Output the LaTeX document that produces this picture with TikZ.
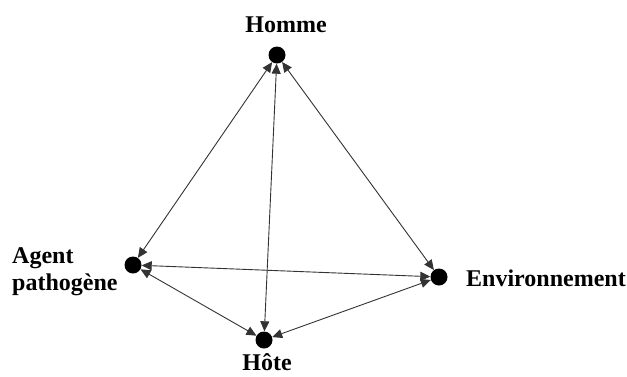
\documentclass[tikz,border=0pt]{standalone}
\usepackage{fontspec}
\setmainfont{Liberation Serif}
\usetikzlibrary{arrows.meta}
\tikzset{pole/.style={circle,fill=black,inner sep=0pt,minimum size=17pt},
  lbl/.style={font=\fontsize{24}{27}\selectfont\bfseries},
  rel/.style={{Triangle[length=10pt,width=9pt]}-{Triangle[length=10pt,width=9pt]},line width=0.9pt,draw=black!80}}
\begin{document}
\begin{tikzpicture}[x=1pt,y=-1pt]
\useasboundingbox (0,0) rectangle (627,376);
\node[pole] (homme) at (277,55){};
\node[pole] (agent) at (133,265){};
\node[pole] (env) at (439,277){};
\node[pole] (hote) at (264,340){};
\node[lbl] (hommeL) at (286,25){Homme};
\node[lbl,align=left,anchor=west,inner sep=0pt] (agentL) at (12,272){Agent\\pathogène};
\node[lbl,anchor=west,inner sep=0pt] (envL) at (466,278){Environnement};
\node[lbl,inner sep=0pt] (hoteL) at (267,362){Hôte};
\draw[rel] (homme) -- (agent);
\draw[rel] (homme) -- (env);
\draw[rel] (homme) -- (hote);
\draw[rel] (agent) -- (env);
\draw[rel] (agent) -- (hote);
\draw[rel] (env) -- (hote);
\end{tikzpicture}
\end{document}
